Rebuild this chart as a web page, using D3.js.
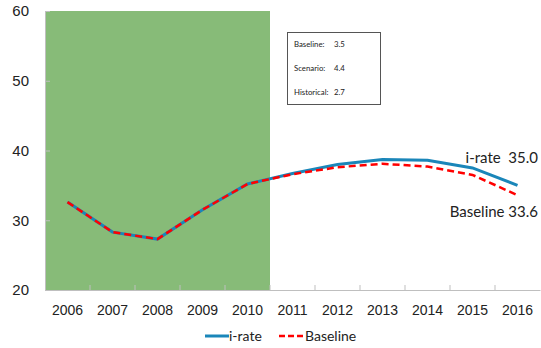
<!DOCTYPE html>
<html>
<head>
<meta charset="utf-8">
<script src="https://cdn.jsdelivr.net/npm/d3@7"></script>
<style>
  body { margin: 0; background: #fff; }
  svg { display: block; font-family: Lato, "Noto Sans", sans-serif; }
</style>
</head>
<body>
<svg id="chart" width="541" height="348"></svg>
<script>
// Chart data
const years = ["2006","2007","2008","2009","2010","2011","2012","2013","2014","2015","2016"];
const irate = [32.6, 28.3, 27.3, 31.5, 35.2, 36.7, 38.0, 38.7, 38.6, 37.5, 35.0];
const baseline = [32.6, 28.3, 27.3, 31.5, 35.2, 36.6, 37.6, 38.1, 37.7, 36.5, 33.6];
const yTicks = [20, 30, 40, 50, 60];
const historyYears = ["2006","2007","2008","2009","2010"];
const boxLabels = ["Baseline:", "Scenario:", "Historical:"];
const boxValues = ["3.5", "4.4", "2.7"];
const seriesNames = ["i-rate", "Baseline"];

const svg = d3.select("#chart");
const margin = { left: 45, right: 1, top: 11, bottom: 58 };
const W = 541, H = 348;

const x = d3.scaleBand().domain(years).range([margin.left, W - margin.right]).padding(0);
const y = d3.scaleLinear().domain([20, 60]).range([H - margin.bottom, margin.top]);
const xc = d => x(d) + x.bandwidth() / 2;

// Shaded historical period
const hFirst = historyYears[0], hLast = historyYears[historyYears.length - 1];
svg.append("rect")
  .attr("x", x(hFirst))
  .attr("y", y(60))
  .attr("width", x(hLast) + x.bandwidth() - x(hFirst))
  .attr("height", y(20) - y(60))
  .attr("fill", "#87bb78");

// Y axis
const yAxis = svg.append("g")
  .attr("transform", `translate(${margin.left},0)`)
  .call(d3.axisRight(y).tickValues(yTicks).tickSize(5).tickFormat(d3.format("d")));
yAxis.select(".domain").attr("stroke", "#bfbfbf");
yAxis.selectAll(".tick line").attr("stroke", "#bfbfbf");
yAxis.selectAll(".tick text")
  .attr("x", -16).attr("text-anchor", "end")
  .attr("font-size", 15).attr("fill", "#222");

// X axis with ticks between categories
const xAxis = svg.append("g")
  .attr("transform", `translate(0,${y(20)})`)
  .call(d3.axisBottom(x).tickSize(0).tickPadding(15));
xAxis.select(".domain").attr("stroke", "#bfbfbf");
xAxis.selectAll(".tick text").attr("font-size", 14).attr("fill", "#222");
svg.append("g").selectAll("line")
  .data(years.slice(1))
  .join("line")
  .attr("x1", d => x(d)).attr("x2", d => x(d))
  .attr("y1", y(20)).attr("y2", y(20) - 5)
  .attr("stroke", "#bfbfbf");

// Lines
const line = d3.line().x((d, i) => xc(years[i])).y(d => y(d));
svg.append("path").datum(irate)
  .attr("d", line).attr("fill", "none")
  .attr("stroke", "#1a86b9").attr("stroke-width", 3);
svg.append("path").datum(baseline)
  .attr("d", line).attr("fill", "none")
  .attr("stroke", "#ff0000").attr("stroke-width", 2.5)
  .attr("stroke-dasharray", "7,4");

// End labels
svg.append("text")
  .attr("x", W - 3).attr("y", y(irate[irate.length - 1]) - 22)
  .attr("text-anchor", "end").attr("font-size", 15).attr("fill", "#222")
  .attr("xml:space", "preserve")
  .text(`${seriesNames[0]}  ${irate[irate.length - 1].toFixed(1)}`);
svg.append("text")
  .attr("x", W - 3).attr("y", y(baseline[baseline.length - 1]) + 22)
  .attr("text-anchor", "end").attr("font-size", 15).attr("fill", "#222")
  .text(`${seriesNames[1]} ${baseline[baseline.length - 1].toFixed(1)}`);

// Info box
const box = svg.append("g");
box.append("rect")
  .attr("x", 287.5).attr("y", 32.5).attr("width", 93).attr("height", 72)
  .attr("fill", "#fff").attr("stroke", "#555").attr("stroke-width", 1);
boxLabels.forEach((lab, i) => {
  box.append("text").attr("x", 294).attr("y", 46.5 + i * 24)
    .attr("font-size", 7.8).attr("fill", "#222").text(lab);
  box.append("text").attr("x", 334).attr("y", 46.5 + i * 24)
    .attr("font-size", 7.8).attr("fill", "#222").text(boxValues[i]);
});

// Legend
const lg = svg.append("g");
lg.append("line").attr("x1", 205).attr("x2", 229).attr("y1", 336).attr("y2", 336)
  .attr("stroke", "#1a86b9").attr("stroke-width", 3);
lg.append("text").attr("x", 229).attr("y", 341).attr("font-size", 14).attr("fill", "#222").text(seriesNames[0]);
lg.append("line").attr("x1", 279).attr("x2", 304).attr("y1", 336).attr("y2", 336)
  .attr("stroke", "#ff0000").attr("stroke-width", 2.5).attr("stroke-dasharray", "6,3");
lg.append("text").attr("x", 305).attr("y", 341).attr("font-size", 14).attr("fill", "#222").text(seriesNames[1]);
</script>
</body>
</html>
